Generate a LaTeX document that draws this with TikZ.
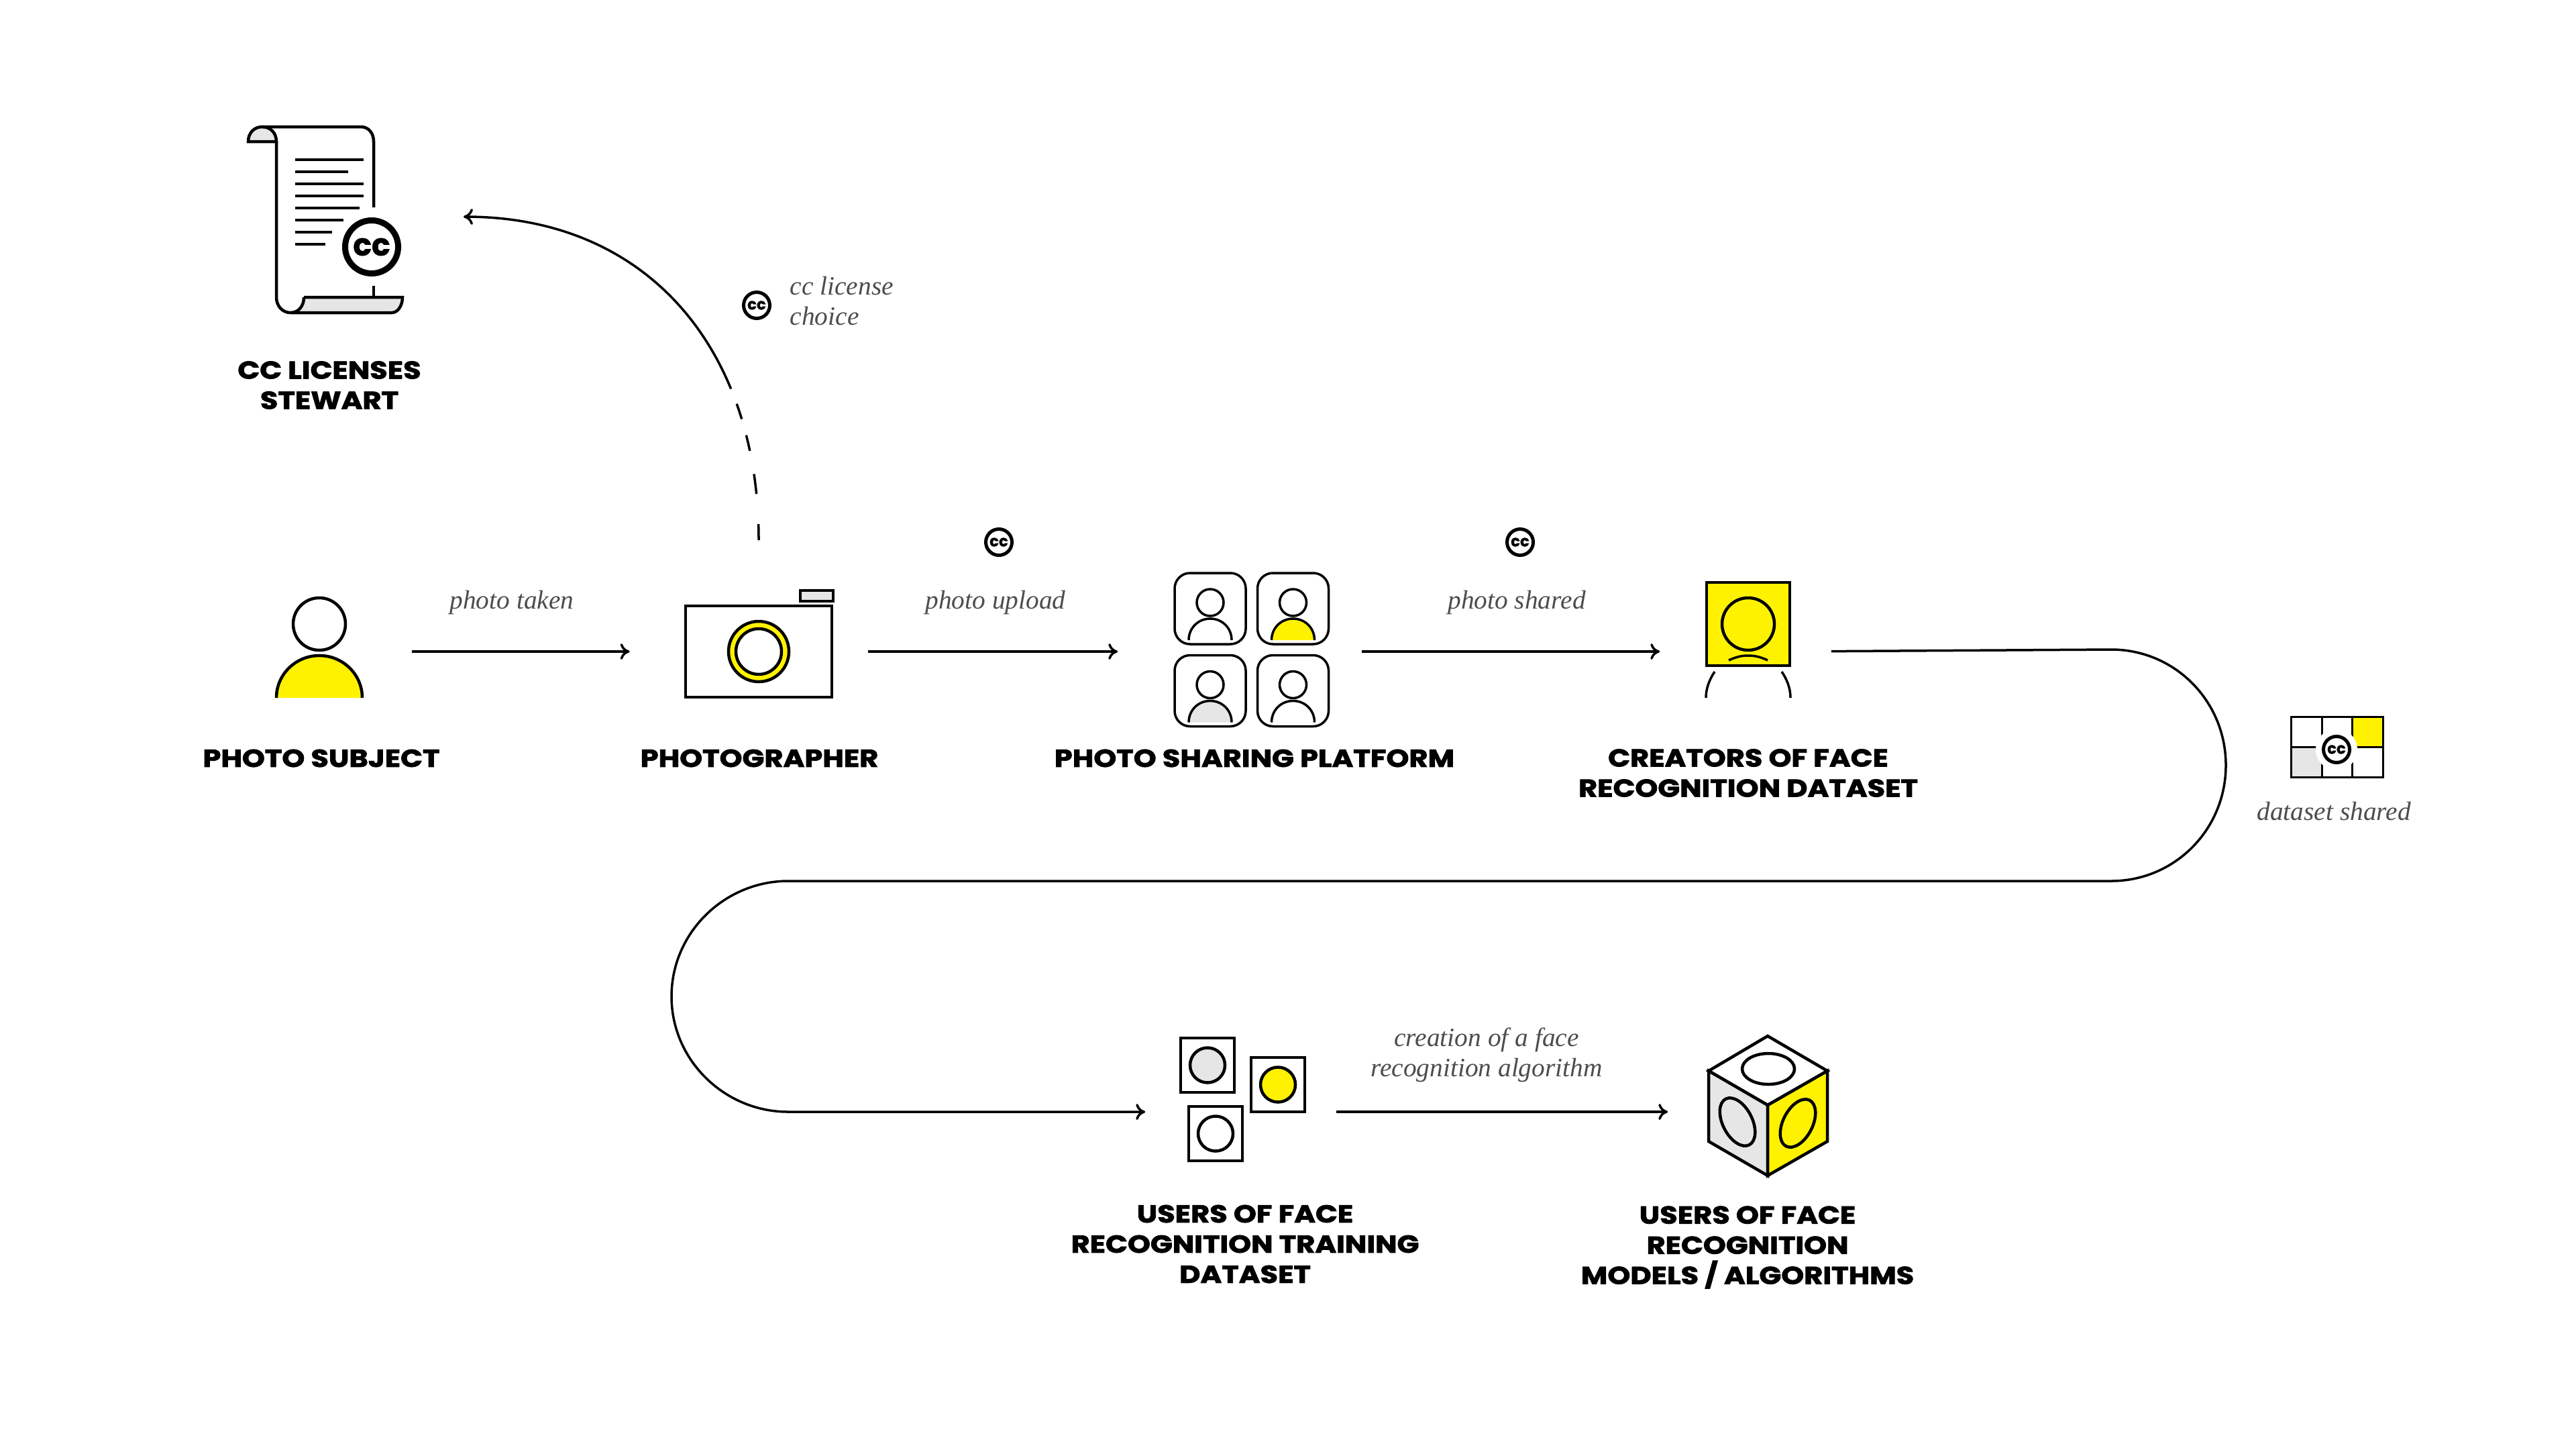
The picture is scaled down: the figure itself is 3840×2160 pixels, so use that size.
\documentclass[tikz,border=0pt]{standalone}
\usepackage{fontspec}
\usetikzlibrary{arrows.meta, shapes.geometric}
\newfontfamily\headfont[BoldFeatures={FakeBold=2.4,FakeStretch=1.18}]{Poppins}
\newfontfamily\markfont[BoldFeatures={FakeBold=1.2}]{Poppins}
\newfontfamily\notefont{Liberation Serif}
\definecolor{ccyellow}{HTML}{FFF200}
\definecolor{ccgray}{HTML}{E6E6E6}
\definecolor{cctext}{HTML}{4D4D4D}
\tikzset{
  iconline/.style={line width=.045cm, line join=miter},
  thinline/.style={line width=.035cm},
  iconbox/.style={minimum width=#1, minimum height=1.4cm, inner sep=0pt},
  flowline/.style={line width=.035cm, -{Computer Modern Rightarrow[length=.14cm,width=.24cm]}},
  stagelabel/.style={font=\headfont\bfseries\fontsize{10.4}{12.8}\selectfont, align=center, inner sep=0pt},
  notelabel/.style={font=\notefont\itshape\fontsize{11.2}{12.8}\selectfont, text=cctext, align=center, inner sep=0pt},
  ccmark/.style={circle, draw, line width=.05cm, fill=white, minimum size=.39cm, inner sep=0pt,
    font=\markfont\bfseries\fontsize{6.5}{6.5}\selectfont},
}
\begin{document}
\begin{tikzpicture}[x=.01cm, y=-.01cm]
  \useasboundingbox (0,0) rectangle (3840,2160);

  % License scroll
  \node[iconbox=2.3cm] (stewart) at (485,323) {};
  \draw[iconline, fill=ccgray] (370,211) .. controls (370,198) and (379,189) .. (391,189) .. controls (403,189) and (412,198) .. (412,211) -- cycle;
  \draw[iconline] (391,189) -- (538,189) .. controls (549,189) and (557,198) .. (557,211) -- (557,309);
  \draw[iconline] (557,426) -- (557,443);
  \draw[iconline] (412,211) -- (412,443) .. controls (412,456) and (421,466) .. (433,466);
  \draw[iconline, fill=ccgray] (453,443) -- (600,443) .. controls (600,454) and (594,466) .. (584,466) -- (433,466) .. controls (445,466) and (453,456) .. (453,443);
  \foreach \y/\xend in {238/542, 256/519, 274/542, 292/542, 310/536, 328/512, 346/495, 364/485} {
    \draw[thinline] (440,\y) -- (\xend,\y);
  }
  \node[ccmark, line width=.09cm, minimum size=.79cm, font=\markfont\bfseries\fontsize{13}{13}\selectfont] (ccstewart) at (554,368) {cc};
  \node[stagelabel] (stewartlabel) at (491,574) {CC LICENSES\\STEWART};

  % License choice
  \coordinate (licenseout) at (1131,805);
  \coordinate (licensein) at (691,323);
  \draw[flowline, dash pattern=on 6.8pt off 12.8pt on 8.5pt off 10pt on 6.8pt off 7.1pt on 6.8pt off 6.8pt on 600pt]
    (licenseout) .. controls (1131,520) and (965,323) .. (licensein);
  \node[ccmark] (ccchoice) at (1128,455) {cc};
  \node[notelabel, align=left, anchor=west] (choicelabel) at (1177,449) {cc license\\choice};

  % Photo subject
  \node[iconbox=1.28cm] (subject) at (476,971) {};
  \draw[iconline] (476,930) circle (39);
  \draw[iconline, fill=ccyellow] (412,1040) .. controls (412,1005) and (441,977) .. (476,977) .. controls (511,977) and (540,1005) .. (540,1040);
  \node[stagelabel] (subjectlabel) at (479,1130) {PHOTO SUBJECT};

  % Photographer
  \node[draw, iconline, minimum width=2.18cm, minimum height=1.36cm] (camera) at (1131,971) {};
  \draw[iconline, fill=ccgray] (1193,880) rectangle (1242,896);
  \draw[iconline, fill=ccyellow] (1131,971) circle (45);
  \draw[iconline, fill=white] (1131,971) circle (34);
  \node[stagelabel] (cameralabel) at (1132,1130) {PHOTOGRAPHER};
  \draw[flowline, shorten <=.73cm, shorten >=.81cm] (subject.east) -- (camera.west);
  \node[notelabel] (takenlabel) at (763,898) {photo taken};

  % Photo sharing platform
  \node[iconbox=2.3cm] (platform) at (1866,971) {};
  \foreach \cx/\cy/\shade in {1804/907/white, 1927.5/907/ccyellow, 1804/1029.5/ccgray, 1927.5/1029.5/white} {
    \draw[thinline, rounded corners=.23cm] (\cx-53,\cy-53) rectangle (\cx+53,\cy+53);
    \draw[thinline] (\cx,\cy-9) circle (20);
    \draw[thinline, fill=\shade] (\cx-32,\cy+47) .. controls (\cx-32,\cy+29) and (\cx-18,\cy+15) .. (\cx,\cy+15) .. controls (\cx+18,\cy+15) and (\cx+32,\cy+29) .. (\cx+32,\cy+47);
  }
  \node[stagelabel] (platformlabel) at (1870,1130) {PHOTO SHARING PLATFORM};
  \draw[flowline, shorten <=.52cm, shorten >=.84cm] (camera.east) -- (platform.west);
  \node[ccmark] (ccupload) at (1489,808) {cc};
  \node[notelabel] (uploadlabel) at (1484,898) {photo upload};

  % Creators of the dataset
  \node[iconbox=1.26cm] (creators) at (2606,971) {};
  \draw[iconline, fill=ccyellow] (2544,868) rectangle (2668,992);
  \draw[iconline] (2606,930) circle (39);
  \draw[thinline] (2577,984) .. controls (2588,979) and (2596,977) .. (2606,977) .. controls (2616,977) and (2624,979) .. (2635,984);
  \draw[thinline] (2556,1001) .. controls (2548,1013) and (2543,1026) .. (2543,1040);
  \draw[thinline] (2656,1001) .. controls (2664,1013) and (2669,1026) .. (2669,1040);
  \node[stagelabel] (creatorslabel) at (2606,1152) {CREATORS OF FACE\\RECOGNITION DATASET};
  \draw[flowline, shorten <=.48cm, shorten >=.68cm] (platform.east) -- (creators.west);
  \node[ccmark] (ccshared) at (2266,808) {cc};
  \node[notelabel] (sharedlabel) at (2261,898) {photo shared};

  % Dataset shared
  \node[iconbox=1.37cm] (dataset) at (3483,1113) {};
  \fill[ccyellow] (3506,1068) rectangle (3552,1113);
  \fill[ccgray] (3415,1113) rectangle (3461,1158);
  \draw[iconline, line width=.03cm] (3415,1068) rectangle (3552,1158);
  \draw[iconline, line width=.03cm] (3461,1068) -- (3461,1158) (3506,1068) -- (3506,1158) (3415,1113) -- (3552,1113);
  \fill[white] (3483,1117) circle (31);
  \node[ccmark, draw=black] (ccdataset) at (3483,1117) {cc};
  \node[notelabel] (datasetlabel) at (3479,1209) {dataset shared};

  % Users of the training dataset
  \node[iconbox=1.84cm] (training) at (1852,1657) {};
  \foreach \bx/\by/\shade in {1760/1547/ccgray, 1865/1576/ccyellow, 1772/1649/white} {
    \draw[iconline] (\bx,\by) rectangle (\bx+80,\by+81);
    \draw[iconline, fill=\shade] (\bx+40,\by+40.5) circle (26);
  }
  \node[stagelabel] (traininglabel) at (1856,1854) {USERS OF FACE\\RECOGNITION TRAINING\\DATASET};

  % Long way round
  \draw[flowline, shorten <=.6cm, shorten >=.52cm] (creators.east) -- (3147,968)
    .. controls (3242,968) and (3318,1045) .. (3318,1140.5)
    .. controls (3318,1236) and (3242,1313) .. (3147,1313)
    -- (1175,1313)
    .. controls (1080,1313) and (1001,1390) .. (1001,1485)
    .. controls (1001,1580) and (1080,1657) .. (1175,1657)
    -- (training.west);

  % Users of the models
  \node[iconbox=1.77cm] (models) at (2635.5,1657) {};
  \draw[iconline, fill=white] (2635,1544) -- (2724,1596) -- (2635,1647) -- (2547,1596) -- cycle;
  \draw[iconline, fill=ccgray] (2547,1596) -- (2635,1647) -- (2635,1752) -- (2547,1701) -- cycle;
  \draw[iconline, fill=ccyellow] (2724,1596) -- (2635,1647) -- (2635,1752) -- (2724,1701) -- cycle;
  \draw[iconline] (2636,1593) ellipse (39 and 23);
  \draw[iconline, rotate around={27:(2590,1672)}] (2590,1672) ellipse (22 and 38.5);
  \draw[iconline, rotate around={-27:(2680,1674)}] (2680,1674) ellipse (22 and 38.5);
  \node[stagelabel] (modelslabel) at (2605,1859) {USERS OF FACE\\RECOGNITION\\MODELS / ALGORITHMS};
  \draw[flowline, shorten <=.47cm, shorten >=.6cm] (training.east) -- (models.west);
  \node[notelabel] (algorithmlabel) at (2216,1572) {creation of a face\\recognition algorithm};
\end{tikzpicture}
\end{document}
